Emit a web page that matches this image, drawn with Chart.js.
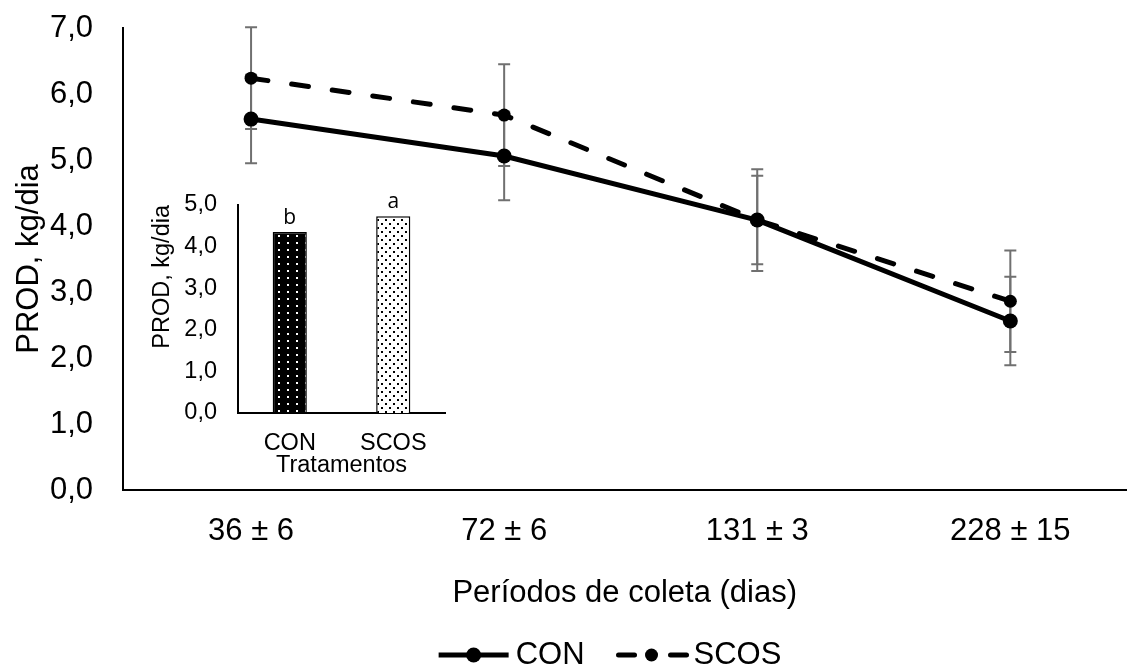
<!DOCTYPE html>
<html lang="pt-br">

<head>
  <meta charset="UTF-8" />
  <title>PROD por período</title>
  <script src="https://cdn.jsdelivr.net/npm/chart.js"></script>
  <style>
    body { margin: 0; background: #fff; overflow: hidden; }
    #wrap { position: relative; width: 1134px; height: 667px; }
    #grafico { position: absolute; left: 0; top: 0; }
    #inset { position: absolute; left: 140px; top: 190px; }
  </style>
</head>

<body>
  <div id="wrap">
    <canvas id="grafico" width="1134" height="667"></canvas>
    <canvas id="inset" width="320" height="300"></canvas>
  </div>

<script>
  // dados do gráfico principal
  var periodos = ["36 ± 6", "72 ± 6", "131 ± 3", "228 ± 15"];
  var con = [5.62, 5.06, 4.09, 2.56];
  var scos = [6.24, 5.68, 4.09, 2.86];
  var erroCon = [0.67, 0.67, 0.67, 0.67];
  var erroScos = [0.77, 0.77, 0.77, 0.77];

  // dados do gráfico menor (tratamentos)
  var tratamentos = ["CON", "SCOS"];
  var mediaTrat = [4.35, 4.73];
  var letras = ["b", "a"];

  var fonte = "'Liberation Sans', Arial, sans-serif";

  function virgula(v) {
    return Number(v).toFixed(1).replace(".", ",");
  }

  function pontos(serie) {
    return serie.map(function (v, i) { return { x: i, y: v }; });
  }

  function criarPadrao(fundo, cor, w, h, lista, t) {
    var c = document.createElement("canvas");
    c.width = w;
    c.height = h;
    var g = c.getContext("2d");
    g.fillStyle = fundo;
    g.fillRect(0, 0, w, h);
    g.fillStyle = cor;
    lista.forEach(function (p) { g.fillRect(p[0], p[1], t, t); });
    return g.createPattern(c, "repeat");
  }

  var barrasErro = {
    id: "barrasErro",
    beforeDatasetsDraw: function (chart) {
      var ctx = chart.ctx;
      var sx = chart.scales.x;
      var sy = chart.scales.y;
      var series = [[con, erroCon], [scos, erroScos]];
      ctx.save();
      ctx.strokeStyle = "#707070";
      ctx.lineWidth = 2;
      series.forEach(function (s) {
        s[0].forEach(function (v, i) {
          var px = sx.getPixelForValue(i);
          var topo = sy.getPixelForValue(v + s[1][i]);
          var base = sy.getPixelForValue(v - s[1][i]);
          ctx.beginPath();
          ctx.moveTo(px, topo);
          ctx.lineTo(px, base);
          ctx.moveTo(px - 6, topo);
          ctx.lineTo(px + 6, topo);
          ctx.moveTo(px - 6, base);
          ctx.lineTo(px + 6, base);
          ctx.stroke();
        });
      });
      ctx.restore();
    }
  };

  var legenda = {
    id: "legenda",
    afterDraw: function (chart) {
      var ctx = chart.ctx;
      var yc = 655;
      var icone = 70, gapTexto = 7, gapItem = 32;
      ctx.save();
      ctx.font = "31px " + fonte;
      ctx.textBaseline = "middle";
      var total = 0;
      chart.data.datasets.forEach(function (d, i) {
        total += icone + gapTexto + ctx.measureText(d.label).width + (i > 0 ? gapItem : 0);
      });
      var x = 610 - total / 2;
      chart.data.datasets.forEach(function (d, i) {
        if (i > 0) x += gapItem;
        ctx.strokeStyle = d.borderColor;
        ctx.lineWidth = d.borderWidth;
        ctx.lineCap = d.borderDash ? "round" : "butt";
        ctx.setLineDash(d.borderDash ? [16, 36] : []);
        ctx.beginPath();
        ctx.moveTo(x + (d.borderDash ? 2 : 0), yc);
        ctx.lineTo(x + icone, yc);
        ctx.stroke();
        ctx.setLineDash([]);
        ctx.fillStyle = d.backgroundColor;
        ctx.beginPath();
        ctx.arc(x + icone / 2, yc, d.pointRadius, 0, Math.PI * 2);
        ctx.fill();
        x += icone + gapTexto;
        ctx.fillStyle = "#000";
        ctx.fillText(d.label, x, yc);
        x += ctx.measureText(d.label).width;
      });
      ctx.restore();
    }
  };

  var letrasBarras = {
    id: "letrasBarras",
    afterDatasetsDraw: function (chart) {
      var ctx = chart.ctx;
      var meta = chart.getDatasetMeta(0);
      ctx.save();
      ctx.font = "21px 'Open Sans', sans-serif";
      ctx.fillStyle = "#000";
      ctx.textAlign = "center";
      ctx.textBaseline = "bottom";
      meta.data.forEach(function (barra, i) {
        ctx.fillText(letras[i], barra.x, barra.y - 4);
      });
      ctx.restore();
    }
  };

  new Chart(grafico, {
    type: "line",
    data: {
      datasets: [
        {
          label: "CON",
          data: pontos(con),
          borderColor: "#000",
          backgroundColor: "#000",
          borderWidth: 5,
          pointRadius: 7.5,
          pointHoverRadius: 7.5,
          pointBorderWidth: 0,
        },
        {
          label: "SCOS",
          data: pontos(scos),
          borderColor: "#000",
          backgroundColor: "#000",
          borderWidth: 5,
          borderDash: [17, 24],
          borderCapStyle: "round",
          pointRadius: 6.5,
          pointHoverRadius: 6.5,
          pointBorderWidth: 0,
        },
      ],
    },
    options: {
      responsive: false,
      animation: false,
      layout: { padding: { top: 28, right: 0, bottom: 0, left: 0 } },
      plugins: {
        legend: { display: false },
        tooltip: { enabled: false },
      },
      scales: {
        x: {
          type: "linear",
          min: -0.506,
          max: 3.459,
          afterBuildTicks: function (s) {
            s.ticks = periodos.map(function (p, i) { return { value: i }; });
          },
          ticks: {
            callback: function (v) { return periodos[v]; },
            font: { family: fonte, size: 31 },
            color: "#000",
            padding: 23,
            maxRotation: 0,
            autoSkip: false,
          },
          grid: { display: false, drawTicks: false },
          border: { color: "#000", width: 2 },
          title: {
            display: true,
            text: "Períodos de coleta (dias)",
            font: { family: fonte, size: 31 },
            color: "#000",
            padding: { top: 0, bottom: 55 },
          },
          afterFit: function (s) { s.height = 177; },
        },
        y: {
          min: 0,
          max: 7,
          ticks: {
            stepSize: 1,
            callback: virgula,
            font: { family: fonte, size: 31 },
            color: "#000",
            padding: 30,
          },
          grid: { display: false, drawTicks: false },
          border: { color: "#000", width: 2 },
          title: {
            display: true,
            text: "PROD, kg/dia",
            font: { family: fonte, size: 31 },
            color: "#000",
            padding: { top: 11, bottom: 0 },
          },
          afterFit: function (s) {
            s.width = 123;
            s.paddingTop = 0;
          },
        },
      },
    },
    plugins: [barrasErro, legenda],
  });

  var padraoCon = criarPadrao("#000", "#fff", 9, 7, [[3, 3]], 2);
  var padraoScos = criarPadrao("#fff", "#000", 8, 8, [[1, 1], [5, 5]], 2);

  new Chart(inset, {
    type: "bar",
    data: {
      labels: tratamentos,
      datasets: [
        {
          data: mediaTrat,
          backgroundColor: [padraoCon, padraoScos],
          borderColor: "#000",
          borderWidth: 1.5,
          barPercentage: 0.33,
          categoryPercentage: 1,
        },
      ],
    },
    options: {
      responsive: false,
      animation: false,
      layout: { padding: { top: 15, right: 15, bottom: 0, left: 0 } },
      plugins: {
        legend: { display: false },
        tooltip: { enabled: false },
      },
      scales: {
        x: {
          ticks: {
            font: { family: fonte, size: 23.5 },
            color: "#000",
            padding: 16,
          },
          grid: { display: false, drawTicks: false },
          border: { color: "#000", width: 2 },
          title: {
            display: true,
            text: "Tratamentos",
            font: { family: fonte, size: 23.5 },
            color: "#000",
            padding: { top: 0, bottom: 10 },
          },
          afterFit: function (s) { s.height = 77; },
        },
        y: {
          min: 0,
          max: 5,
          ticks: {
            stepSize: 1,
            callback: virgula,
            font: { family: fonte, size: 23.5 },
            color: "#000",
            padding: 21,
          },
          grid: { display: false, drawTicks: false },
          border: { color: "#000", width: 2 },
          title: {
            display: true,
            text: "PROD, kg/dia",
            align: "end",
            font: { family: fonte, size: 23.5 },
            color: "#000",
            padding: { top: 8, bottom: 0 },
          },
          afterFit: function (s) {
            s.width = 98;
            s.paddingTop = 0;
          },
        },
      },
    },
    plugins: [letrasBarras],
  });
</script>
</body>

</html>
